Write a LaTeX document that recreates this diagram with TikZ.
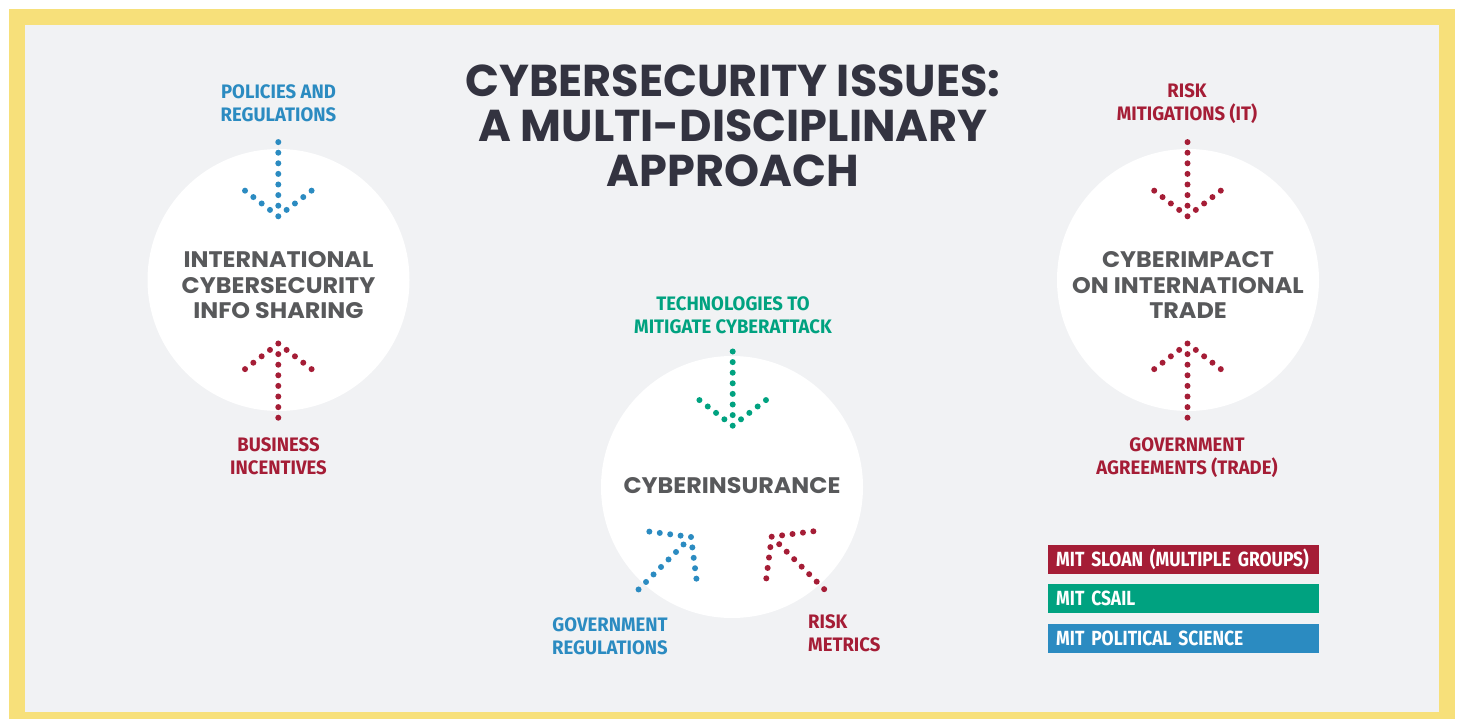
\documentclass[tikz,border=0pt]{standalone}
\usepackage{fontspec}
\newfontfamily\titlefont{Poppins}
\newfontfamily\circfont{Poppins}[FakeStretch=1.06]
\newfontfamily\condfont{Fira Sans}[FakeStretch=0.95]
\newfontfamily\legfont{Fira Sans}[FakeStretch=0.85]
\definecolor{framey}{HTML}{F7E07A}
\definecolor{bgc}{HTML}{F1F2F4}
\definecolor{titlec}{HTML}{333340}
\definecolor{labelc}{HTML}{58595B}
\definecolor{polblue}{HTML}{2B8BC1}
\definecolor{sloanred}{HTML}{A51D36}
\definecolor{csailgreen}{HTML}{00A280}
\newcommand\dotarrow[4]{%
  \foreach \k in {0,...,7}{\fill[#4] ({#1+\k*10.6*cos(#3)},{#2+\k*10.6*sin(#3)}) circle[radius=3pt];}
  \foreach \k in {1,...,4}{%
    \fill[#4] ({#1+\k*10.5*cos(#3+52.4)},{#2+\k*10.5*sin(#3+52.4)}) circle[radius=3pt];
    \fill[#4] ({#1+\k*10.5*cos(#3-52.4)},{#2+\k*10.5*sin(#3-52.4)}) circle[radius=3pt];}}
\tikzset{
  titletext/.style={font=\titlefont\bfseries\fontsize{44.6}{45}\selectfont, text=titlec, align=center, inner sep=0pt},
  circlabel/.style={font=\circfont\bfseries\fontsize{22.5}{25.5}\selectfont, text=labelc, align=center, inner sep=0pt},
  outlabel/.style={font=\condfont\bfseries\fontsize{19.5}{23}\selectfont, align=center, inner sep=0pt},
  bigcirc/.style={circle, fill=white, minimum size=262pt, inner sep=0pt},
  legendbox/.style={rectangle, anchor=north west, text width=254pt, align=left, inner xsep=8.7pt, inner ysep=0pt,
    minimum height=28.7pt, text height=14pt, text depth=0pt, text=white, font=\legfont\bfseries\fontsize{20.5}{22}\selectfont}
}
\begin{document}
\begin{tikzpicture}[x=1pt,y=-1pt]
\useasboundingbox (0,0) rectangle (1462,719);
\fill[white] (0,0) rectangle (1462,719);
\fill[framey] (9,9.5) rectangle (1455,719);
\fill[bgc] (25,25) rectangle (1439,711.5);

% circles
\node[bigcirc] (c1) at (278.5,280) {};
\node[bigcirc] (c2) at (1188,280) {};
\node[bigcirc] (c3) at (732,487) {};

% title
\node[titletext] (title) at (733,126) {CYBERSECURITY ISSUES:\\A MULTI-DISCIPLINARY\\APPROACH};

% circle labels
\node[circlabel] (l1) at (278.5,285.5) {INTERNATIONAL\\CYBERSECURITY\\INFO SHARING};
\node[circlabel] (l2) at (1188,285.5) {CYBERIMPACT\\ON INTERNATIONAL\\TRADE};
\node[circlabel] (l3) at (732,485.5) {CYBERINSURANCE};

% outer labels
\node[outlabel, text=polblue] (o1) at (278.5,103.2) {POLICIES AND\\REGULATIONS};
\node[outlabel, text=sloanred] (o2) at (278.5,456.5) {BUSINESS\\INCENTIVES};
\node[outlabel, text=sloanred] (o3) at (1187,103.6) {RISK\\MITIGATIONS (IT)};
\node[outlabel, text=sloanred] (o4) at (1187,458) {GOVERNMENT\\AGREEMENTS (TRADE)};
\node[outlabel, text=csailgreen] (o5) at (733,315) {TECHNOLOGIES TO\\MITIGATE CYBERATTACK};
\node[outlabel, text=polblue] (o6) at (610,636.5) {GOVERNMENT\\REGULATIONS};
\node[outlabel, text=sloanred, anchor=west, align=left] (o7) at (808,633) {RISK\\METRICS};

% dotted arrows
\dotarrow{278.3}{216.3}{270}{polblue}
\dotarrow{278.3}{343.5}{90}{sloanred}
\dotarrow{1187.5}{216.3}{270}{sloanred}
\dotarrow{1187.5}{343.5}{90}{sloanred}
\dotarrow{732.7}{425.7}{270}{csailgreen}
\dotarrow{691}{537}{135}{polblue}
\dotarrow{771.7}{536.7}{45}{sloanred}

% legend
\node[legendbox, fill=sloanred] (k1) at (1047.3,545) {MIT SLOAN (MULTIPLE GROUPS)};
\node[legendbox, fill=csailgreen] (k2) at (1047.3,584.2) {MIT CSAIL};
\node[legendbox, fill=polblue] (k3) at (1047.3,623.8) {MIT POLITICAL SCIENCE};
\end{tikzpicture}
\end{document}
